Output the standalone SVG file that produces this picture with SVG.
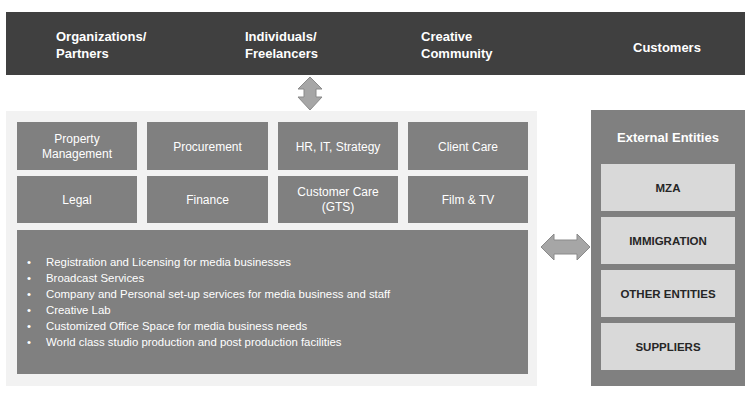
<svg xmlns="http://www.w3.org/2000/svg" width="750" height="400" viewBox="0 0 750 400">
<style>
.top{font-family:"Liberation Sans",Arial,sans-serif;font-weight:bold;font-size:13px;fill:#ffffff}
.cell{fill:#808080}
.ct{font-family:"Liberation Sans",Arial,sans-serif;font-size:12px;fill:#ffffff;text-anchor:middle}
.bt{font-family:"Liberation Sans",Arial,sans-serif;font-size:11.4px;fill:#ffffff}
.ext{fill:#d9d9d9}
.et{font-family:"Liberation Sans",Arial,sans-serif;font-weight:bold;font-size:11.5px;fill:#262626;text-anchor:middle}
.arrow{fill:#a6a6a6;stroke:#8a8a8a;stroke-width:1}
</style>
<rect width="750" height="400" fill="#ffffff"/>
<g id="customers">
<rect x="6" y="12" width="739" height="63" fill="#404040"/>
<text class="top" x="56" y="41">Organizations/</text>
<text class="top" x="56" y="58">Partners</text>
<text class="top" x="245" y="41">Individuals/</text>
<text class="top" x="245" y="58">Freelancers</text>
<text class="top" x="421" y="41">Creative</text>
<text class="top" x="421" y="58">Community</text>
<text class="top" x="633" y="52" font-size="13.5">Customers</text>
</g>
<g id="organization">
<rect x="6" y="111" width="531" height="275" fill="#f2f2f2"/>
<g id="property"><rect class="cell" x="17" y="122" width="120" height="48"/><text class="ct" x="77" y="143">Property</text><text class="ct" x="77" y="158">Management</text></g>
<g id="procurement"><rect class="cell" x="147" y="122" width="121" height="48"/><text class="ct" x="207.5" y="151">Procurement</text></g>
<g id="hr"><rect class="cell" x="278" y="122" width="120" height="48"/><text class="ct" x="338" y="151">HR, IT, Strategy</text></g>
<g id="clientcare"><rect class="cell" x="408" y="122" width="120" height="48"/><text class="ct" x="468" y="151">Client Care</text></g>
<g id="legal"><rect class="cell" x="17" y="176" width="120" height="47"/><text class="ct" x="77" y="204">Legal</text></g>
<g id="finance"><rect class="cell" x="147" y="176" width="121" height="47"/><text class="ct" x="207.5" y="204">Finance</text></g>
<g id="customercare"><rect class="cell" x="278" y="176" width="120" height="47"/><text class="ct" x="338" y="196">Customer Care</text><text class="ct" x="338" y="211">(GTS)</text></g>
<g id="filmtv"><rect class="cell" x="408" y="176" width="120" height="47"/><text class="ct" x="468" y="204">Film &amp; TV</text></g>
<g id="services"><rect class="cell" x="17" y="230" width="511" height="144"/>
<text class="bt" x="27" y="265.5">•</text><text class="bt" x="46" y="265.5">Registration and Licensing for media businesses</text>
<text class="bt" x="27" y="281.5">•</text><text class="bt" x="46" y="281.5">Broadcast Services</text>
<text class="bt" x="27" y="297.5">•</text><text class="bt" x="46" y="297.5">Company and Personal set-up services for media business and staff</text>
<text class="bt" x="27" y="313.5">•</text><text class="bt" x="46" y="313.5">Creative Lab</text>
<text class="bt" x="27" y="329.5">•</text><text class="bt" x="46" y="329.5">Customized Office Space for media business needs</text>
<text class="bt" x="27" y="345.5">•</text><text class="bt" x="46" y="345.5">World class studio production and post production facilities</text>
</g>
</g>
<g id="external">
<rect x="591" y="110" width="154" height="276" fill="#808080"/>
<text x="668" y="142" font-family="Liberation Sans, Arial, sans-serif" font-weight="bold" font-size="13" fill="#ffffff" text-anchor="middle">External Entities</text>
<g id="mza"><rect class="ext" x="601" y="164" width="134" height="47"/><text class="et" x="668" y="191.5">MZA</text></g>
<g id="immigration"><rect class="ext" x="601" y="217" width="134" height="47"/><text class="et" x="668" y="244.5">IMMIGRATION</text></g>
<g id="other"><rect class="ext" x="601" y="270" width="134" height="47"/><text class="et" x="668" y="297.5">OTHER  ENTITIES</text></g>
<g id="suppliers"><rect class="ext" x="601" y="323" width="134" height="47"/><text class="et" x="668" y="350.5">SUPPLIERS</text></g>
</g>
<g id="connectors">
<path class="arrow" d="M310,77 L322,89 L316,89 L316,97 L322,97 L310,110 L298,97 L304,97 L304,89 L298,89 Z"/>
<path class="arrow" d="M541,247 L554,234 L554,240 L577,240 L577,234 L590,247 L577,260 L577,254 L554,254 L554,260 Z"/>
</g>
</svg>
